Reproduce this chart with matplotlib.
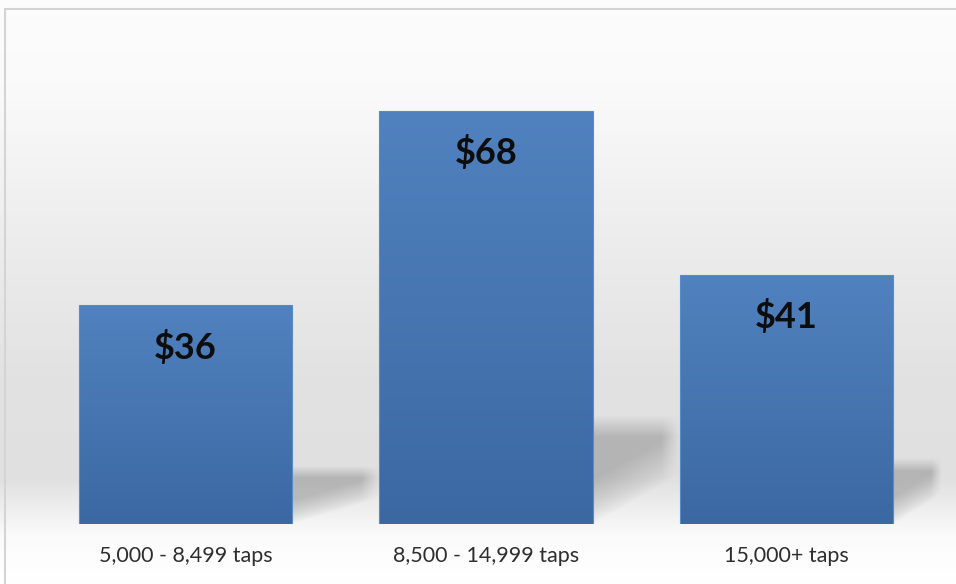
import matplotlib.pyplot as plt
import numpy as np
from matplotlib.patches import Rectangle

plt.rcParams['font.family'] = ['Lato', 'DejaVu Sans']

categories = ['5,000 - 8,499 taps', '8,500 - 14,999 taps', '15,000+ taps']
values = [36, 68, 41]
value_labels = ['$36', '$68', '$41']

W, H = 956, 584
fig = plt.figure(figsize=(W / 100, H / 100), dpi=100)

# background: light vertical gradient behind everything
bg = fig.add_axes([0, 0, 1, 1], zorder=0)
yy = np.linspace(0, 1, 300)  # 0 = bottom, 1 = top
stops_y = [0.0, 0.08, 0.18, 0.35, 0.6, 0.85, 1.0]
stops_c = [1.0, 0.985, 0.88, 0.885, 0.93, 0.98, 0.99]
shade = np.interp(yy, stops_y, stops_c)
bg.imshow(np.repeat(shade[:, None], 2, axis=1)[:, :, None].repeat(3, axis=2),
          aspect='auto', origin='lower', extent=[0, 1, 0, 1], interpolation='bilinear')
bg.add_patch(Rectangle((4.5 / W, -0.1), 2, 1 - 9 / H + 0.1, fill=False,
                       edgecolor='#d4d4d4', linewidth=1.5))
bg.set_xlim(0, 1)
bg.set_ylim(0, 1)
bg.axis('off')

# main axes: category unit = 300.5 px, value unit ~ 6.07 px
x0 = (185.5 - 0.55 * 300.5) / W
w = 3.1 * 300.5 / W
y0 = 1 - 524 / H
ymax = 80
h = ymax * 6.07 / H
ax = fig.add_axes([x0, y0, w, h], zorder=1)
ax.patch.set_alpha(0)
ax.set_xlim(-0.55, 2.55)
ax.set_ylim(0, ymax)

xs = np.arange(len(values))
bw = 0.709
bars = ax.bar(xs, values, width=bw, color='none', edgecolor='none', zorder=3)

# soft shadows on the floor to the right of each bar
sh_w = 88 / 300.5
clip_right = (942 - 185.5) / 300.5
for x, v in zip(xs, values):
    xr = x + bw / 2
    sh_h = v * 0.24
    right = min(xr + sh_w, clip_right)
    u = np.linspace(0, 1, 160)[None, :]
    vv = np.linspace(0, 1.25, 200)[:, None]
    below = np.clip((vv - 0.5 * u) / 0.45, 0, 1)
    top = np.clip((1.1 - vv) / 0.22, 0, 1)
    side = np.clip((1 - u) / 0.22, 0, 1)
    alpha = 0.45 * below ** 0.8 * top * side
    img = np.zeros((200, 160, 4))
    img[..., :3] = 0.5
    img[..., 3] = alpha
    ax.imshow(img, extent=[xr, right, 0, sh_h * 1.25], origin='lower', aspect='auto',
              interpolation='bilinear', zorder=2)

# bars with a vertical blue gradient
top_c = np.array([0x50, 0x82, 0xbf]) / 255
bot_c = np.array([0x3c, 0x68, 0xa2]) / 255
t = np.linspace(0, 1, 200)[:, None]
grad = (bot_c * (1 - t) + top_c * t)[:, None, :]
for b in bars:
    bx, by = b.get_x(), b.get_y()
    bwid, bht = b.get_width(), b.get_height()
    ax.imshow(grad, extent=[bx, bx + bwid, by, by + bht], origin='lower',
              aspect='auto', interpolation='bilinear', zorder=3)
    ax.add_patch(Rectangle((bx, by), bwid, bht, fill=False,
                           edgecolor='#5b8bc6', linewidth=0.8, zorder=4))

for x, v, lab in zip(xs, values, value_labels):
    ax.annotate(lab, (x, v), xytext=(0, -30), textcoords='offset points',
                ha='center', va='center', fontsize=26, fontweight='bold',
                color='#0d0d0d', zorder=5)

ax.set_xlim(-0.55, 2.55)
ax.set_ylim(0, ymax)
ax.set_xticks(xs)
ax.set_xticklabels(categories, fontsize=15.5, color='#2e2e2e')
ax.tick_params(axis='x', length=0, pad=16)
ax.set_yticks([])
for s in ax.spines.values():
    s.set_visible(False)

fig.savefig('out.png', dpi=100)
